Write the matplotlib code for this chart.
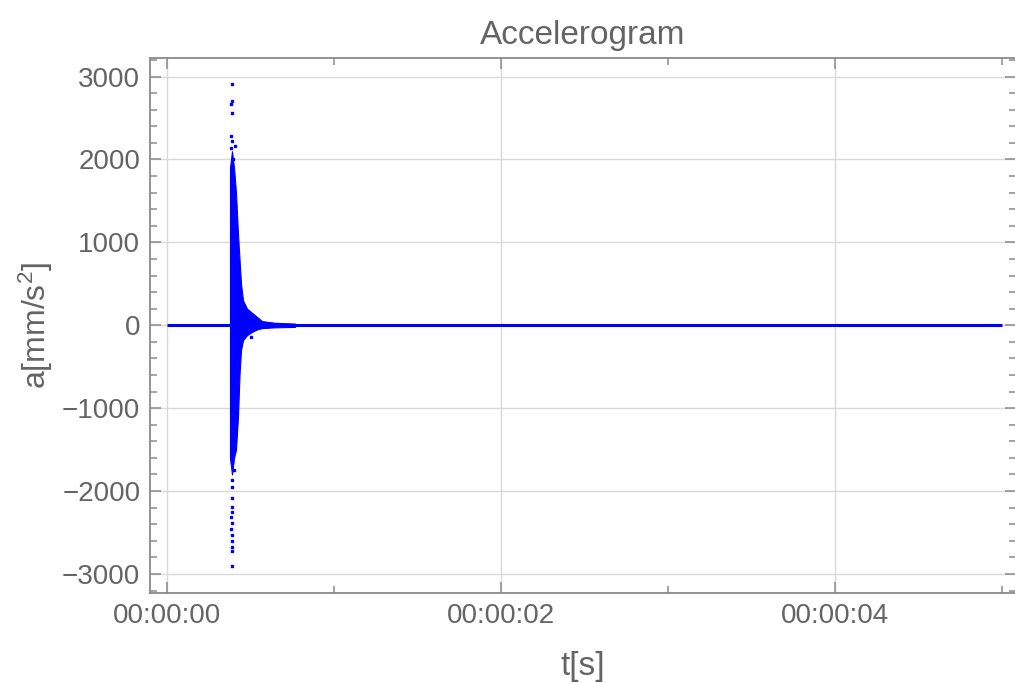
import matplotlib
matplotlib.use("Agg")
import matplotlib.pyplot as plt
from matplotlib.ticker import MultipleLocator, FuncFormatter

plt.rcParams['font.family'] = ['Liberation Sans', 'DejaVu Sans']
plt.rcParams['mathtext.fontset'] = 'custom'
plt.rcParams['mathtext.rm'] = 'Liberation Sans'
plt.rcParams['mathtext.it'] = 'Liberation Sans'

# ---- data ----
baseline_t = [0.0, 5.0]
baseline_a = [0.0, 0.0]

# dense core envelope of the burst
core_t = [0.377, 0.389, 0.401, 0.413, 0.425, 0.434, 0.443, 0.455, 0.479, 0.509, 0.539, 0.569, 0.647, 0.766]
core_upper = [1900, 2100, 1900, 1600, 1100, 800, 500, 300, 200, 150, 100, 50, 30, 20]
core_lower = [-1600, -1800, -1600, -1500, -1100, -600, -300, -180, -120, -80, -50, -35, -25, -20]

# isolated points
pts_t = [0.391, 0.391, 0.383, 0.391, 0.381, 0.391, 0.409, 0.381,
         0.387, 0.389, 0.389, 0.389, 0.391, 0.391, 0.385, 0.391, 0.383,
         0.391, 0.391, 0.391, 0.391, 0.391, 0.501, 0.395, 0.397, 0.401]
pts_a = [2907, 2705, 2665, 2564, 2283, 2226, 2162, 2141,
         -1650, -1870, -1950, -2080, -2194, -2255, -2315, -2383, -2456,
         -2536, -2597, -2677, -2729, -2910, -141, 2000, 1800, -1750]

title = "Accelerogram"
xlabel = "t[s]"
ylabel = "a[mm/s$^2$]"

grey = "#646464"
blue = "#0000ff"

fig = plt.figure(figsize=(10.15, 6.83), dpi=100)
ax = fig.add_axes([150/1015, 1-593/683, 866/1015, (593-57.5)/683])

ax.plot(baseline_t, baseline_a, color=blue, lw=2.2, solid_capstyle='butt', zorder=3)
ax.fill_between(core_t, core_lower, core_upper, color=blue, lw=0.8, edgecolor=blue, zorder=3)
ax.plot(pts_t, pts_a, ls='none', marker='s', ms=2.0, mec=blue, mfc=blue, zorder=3)

ax.set_xlim(-0.102, 5.084)
ax.set_ylim(-3230, 3230)

ax.xaxis.set_major_locator(MultipleLocator(2))
ax.xaxis.set_minor_locator(MultipleLocator(1))
ax.yaxis.set_major_locator(MultipleLocator(1000))
ax.yaxis.set_minor_locator(MultipleLocator(200))
ax.xaxis.set_major_formatter(FuncFormatter(lambda v, p: "00:00:%02d" % int(round(v))))
ax.yaxis.set_major_formatter(FuncFormatter(lambda v, p: ("\u2212%d" % int(-v)) if v < 0 else "%d" % int(v)))

ax.grid(True, which='major', color='#d9d9d9', lw=1.0)
ax.set_axisbelow(True)

for s in ax.spines.values():
    s.set_color('#8a8a8a')
    s.set_linewidth(1.3)
ax.spines['right'].set_visible(False)

ax.tick_params(which='both', direction='in', top=True, right=True, color='#8a8a8a',
               labelcolor=grey, labelsize=20, width=1.1)
ax.tick_params(which='major', length=8, pad=7)
ax.tick_params(which='minor', length=5)

ax.set_title(title, color=grey, fontsize=24, pad=10)
ax.set_xlabel(xlabel, color=grey, fontsize=24, labelpad=16)
ax.set_ylabel(ylabel, color=grey, fontsize=23, labelpad=5)

fig.savefig("out.png", dpi=100, facecolor='white')
